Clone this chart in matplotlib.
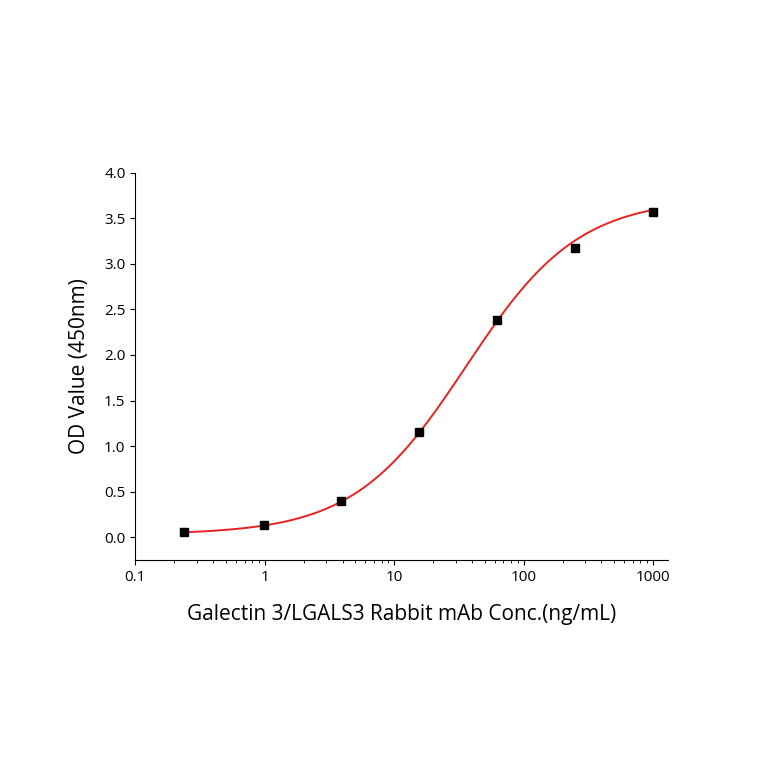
import matplotlib
matplotlib.use("Agg")
import matplotlib.pyplot as plt
import numpy as np
from matplotlib.ticker import FixedLocator, FormatStrFormatter, LogLocator, NullFormatter

conc = [0.24, 0.98, 3.9, 15.6, 62.5, 250, 1000]
od = [0.06, 0.13, 0.40, 1.15, 2.38, 3.17, 3.57]
# 4PL fit parameters (bottom, top, EC50, hill)
fit_bottom, fit_top, fit_ec50, fit_hill = 0.03, 3.72, 36.0, 1.0

plt.rcParams['font.family'] = ['Open Sans', 'DejaVu Sans']
fig = plt.figure(figsize=(7.64, 7.64), dpi=100)
ax = fig.add_axes([0.177, 0.267, 0.697, 0.507])
xs = np.logspace(np.log10(0.24), np.log10(1000), 300)
ys = fit_bottom + (fit_top - fit_bottom) / (1 + (fit_ec50 / xs) ** fit_hill)
ax.plot(xs, ys, color='#e8231f', lw=1.4)
ax.plot(conc, od, 's', color='black', ms=5.5)
ax.set_xscale('log')
ax.set_xlim(0.1, 1300)
ax.set_ylim(-0.25, 4.0)
ax.xaxis.set_major_locator(FixedLocator([0.1, 1, 10, 100, 1000]))
ax.set_xticklabels(['0.1', '1', '10', '100', '1000'])
ax.xaxis.set_minor_locator(LogLocator(base=10, subs=np.arange(2, 10)))
ax.xaxis.set_minor_formatter(NullFormatter())
ax.set_yticks(np.arange(0, 4.01, 0.5))
ax.yaxis.set_major_formatter(FormatStrFormatter('%.1f'))
ax.spines['top'].set_visible(False)
ax.spines['right'].set_visible(False)
ax.tick_params(direction='out', labelsize=11)
ax.set_xlabel('Galectin 3/LGALS3 Rabbit mAb Conc.(ng/mL)', fontsize=15, labelpad=14)
ax.set_ylabel('OD Value (450nm)', fontsize=15, labelpad=10)
fig.savefig('out.png', dpi=100)
